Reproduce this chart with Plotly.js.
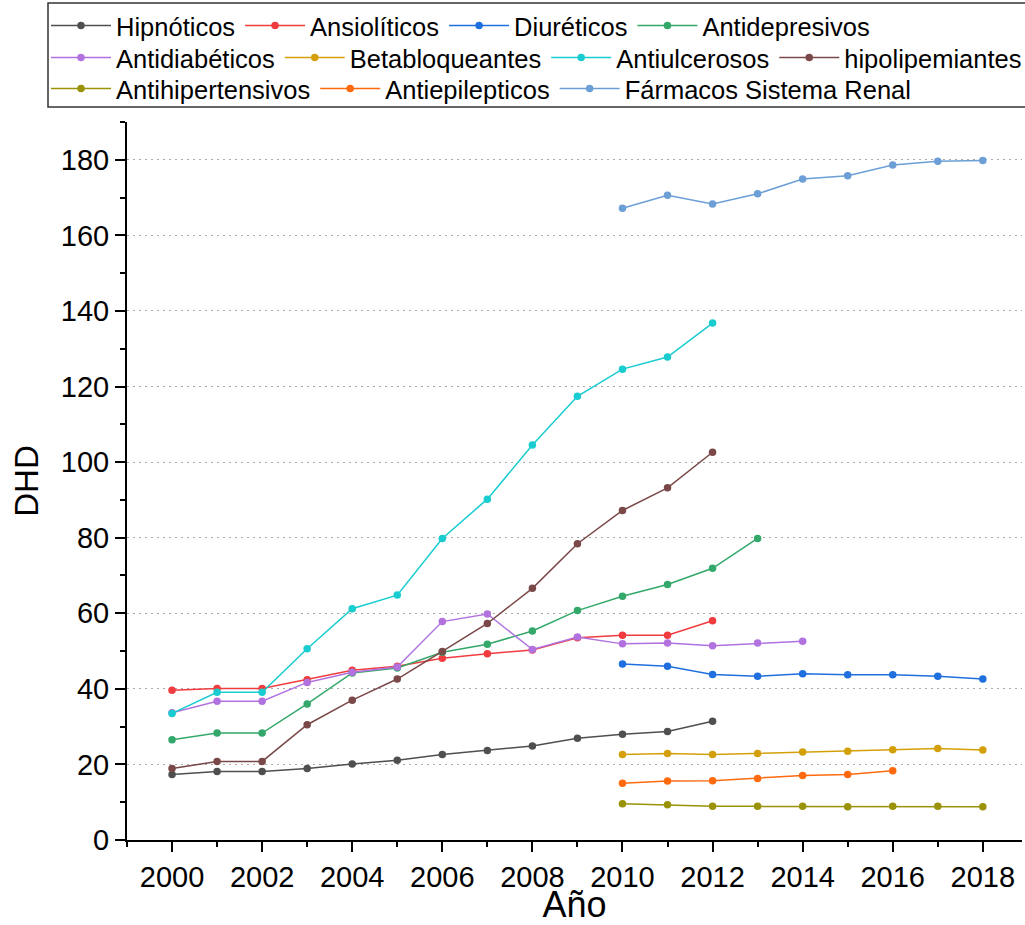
<!DOCTYPE html>
<html>
<head>
<meta charset="utf-8">
<script src="https://cdn.plot.ly/plotly-3.0.1.min.js"></script>
<style>html,body{margin:0;padding:0;background:#fff}#chart{width:1025px;height:925px}</style>
</head>
<body>
<div id="chart"></div>
<script>
// ---- data ----
const yearsA = [2000,2001,2002,2003,2004,2005,2006,2007,2008,2009,2010,2011,2012];
const yearsB = [2010,2011,2012,2013,2014,2015,2016,2017,2018];
const yearsDep = [2000,2001,2002,2003,2004,2005,2006,2007,2008,2009,2010,2011,2012,2013];
const yearsDiab = [2000,2001,2002,2003,2004,2005,2006,2007,2008,2009,2010,2011,2012,2013,2014];
const yearsEpi = [2010,2011,2012,2013,2014,2015,2016];

const hipnoticos      = [17.3,18.1,18.1,18.9,20.1,21.1,22.6,23.7,24.9,26.9,28.0,28.7,31.4];
const ansioliticos    = [39.6,40.1,40.1,42.4,44.9,46.0,48.1,49.3,50.3,53.5,54.2,54.2,58.0];
const diureticos      = [46.6,46.0,43.8,43.3,44.0,43.7,43.7,43.3,42.6];
const antidepresivos  = [26.5,28.3,28.3,36.0,44.2,45.5,49.7,51.8,55.3,60.7,64.5,67.6,71.9,79.8];
const antidiabeticos  = [33.7,36.7,36.7,41.7,44.4,45.8,57.8,59.8,50.4,53.7,51.9,52.1,51.4,52.1,52.6];
const betabloqueantes = [22.6,22.9,22.6,22.9,23.3,23.5,23.9,24.2,23.8];
const antiulcerosos   = [33.5,39.1,39.1,50.6,61.2,64.8,79.8,90.2,104.5,117.4,124.6,127.8,136.8];
const hipolipemiantes = [18.9,20.8,20.8,30.5,37.0,42.6,49.9,57.3,66.6,78.4,87.2,93.2,102.6];
const antihipertensivos = [9.6,9.3,8.9,8.9,8.9,8.8,8.9,8.9,8.8];
const antiepilepticos = [15.0,15.6,15.7,16.3,17.1,17.3,18.3];
const renal           = [167.2,170.6,168.3,171.0,174.9,175.8,178.6,179.6,179.8];

const xTicks = [2000,2002,2004,2006,2008,2010,2012,2014,2016,2018];
const yTicks = [0,20,40,60,80,100,120,140,160,180];

// ---- series definitions ----
const series = [
  {name:'Hipnóticos', x:yearsA, y:hipnoticos, color:'#4f4f4f', legend:'legend'},
  {name:'Ansiolíticos', x:yearsA, y:ansioliticos, color:'#f03c3e', legend:'legend'},
  {name:'Diuréticos', x:yearsB, y:diureticos, color:'#1f6fde', legend:'legend'},
  {name:'Antidepresivos', x:yearsDep, y:antidepresivos, color:'#33a86a', legend:'legend'},
  {name:'Antidiabéticos', x:yearsDiab, y:antidiabeticos, color:'#b172e0', legend:'legend2'},
  {name:'Betabloqueantes', x:yearsB, y:betabloqueantes, color:'#d4a00a', legend:'legend2'},
  {name:'Antiulcerosos', x:yearsA, y:antiulcerosos, color:'#18cccf', legend:'legend2'},
  {name:'hipolipemiantes', x:yearsA, y:hipolipemiantes, color:'#7a4848', legend:'legend2'},
  {name:'Antihipertensivos', x:yearsB, y:antihipertensivos, color:'#9a9208', legend:'legend3'},
  {name:'Antiepilepticos', x:yearsEpi, y:antiepilepticos, color:'#ff6a0f', legend:'legend3'},
  {name:'Fármacos Sistema Renal', x:yearsB, y:renal, color:'#6b9fd6', legend:'legend3'}
];

const traces = series.map(s => ({
  type:'scatter', mode:'lines+markers', name:s.name, x:s.x, y:s.y,
  legend:s.legend,
  line:{color:s.color, width:1.5},
  marker:{color:s.color, size:7.5, symbol:'circle'}
}));

const L = 127, R = 3, T = 122, B = 85, W = 1025, H = 925;
const pw = W - L - R, ph = H - T - B;
const px2x = p => (p - L) / pw;
const py2y = p => (H - B - p) / ph;

const legBase = {
  orientation:'h', xanchor:'left', yanchor:'middle',
  x: px2x(46), bgcolor:'rgba(0,0,0,0)', borderwidth:0,
  font:{family:'Arial, Liberation Sans, sans-serif', size:25.5, color:'#000'},
  itemwidth:60, tracegroupgap:0, itemclick:false
};

const layout = {
  width:W, height:H,
  margin:{l:L, r:R, t:T, b:B, autoexpand:false},
  paper_bgcolor:'#fff', plot_bgcolor:'#fff',
  font:{family:'Arial, Liberation Sans, sans-serif', color:'#000'},
  showlegend:true,
  legend:Object.assign({}, legBase, {y:py2y(26)}),
  legend2:Object.assign({}, legBase, {y:py2y(58)}),
  legend3:Object.assign({}, legBase, {y:py2y(89)}),
  xaxis:{
    range:[1999.0, 2018.87], tickmode:'array', tickvals:xTicks, ticktext:xTicks.map(String),
    showgrid:false, zeroline:false, showline:true, linecolor:'#000', linewidth:2,
    ticks:'outside', ticklen:10, tickwidth:2, tickcolor:'#000',
    minor:{dtick:1, tick0:1999, ticks:'outside', ticklen:5, tickwidth:2, tickcolor:'#000', showgrid:false},
    tickfont:{size:29, family:'Arial, Liberation Sans, sans-serif'},
    title:{text:'Año', font:{size:36}, standoff:8},
    automargin:false, fixedrange:true
  },
  yaxis:{
    range:[0,190], tickmode:'array', tickvals:yTicks, ticktext:yTicks.map(String),
    showgrid:true, gridcolor:'#a8a8a8', gridwidth:1, griddash:'2px,4px',
    zeroline:false, showline:true, linecolor:'#000', linewidth:2,
    ticks:'outside', ticklen:10, tickwidth:2, tickcolor:'#000',
    minor:{dtick:10, tick0:0, ticks:'outside', ticklen:5, tickwidth:2, tickcolor:'#000', showgrid:false},
    tickfont:{size:29, family:'Arial, Liberation Sans, sans-serif'},
    title:{text:'DHD', font:{size:33}, standoff:12},
    automargin:false, fixedrange:true
  },
  shapes:[{
    type:'rect', xref:'paper', yref:'paper',
    x0:px2x(48), x1:px2x(1030), y0:py2y(107), y1:py2y(3),
    line:{color:'#333', width:1.5}, fillcolor:'rgba(0,0,0,0)', layer:'above'
  }]
};

Plotly.newPlot('chart', traces, layout, {displayModeBar:false, staticPlot:true});
</script>
</body>
</html>
